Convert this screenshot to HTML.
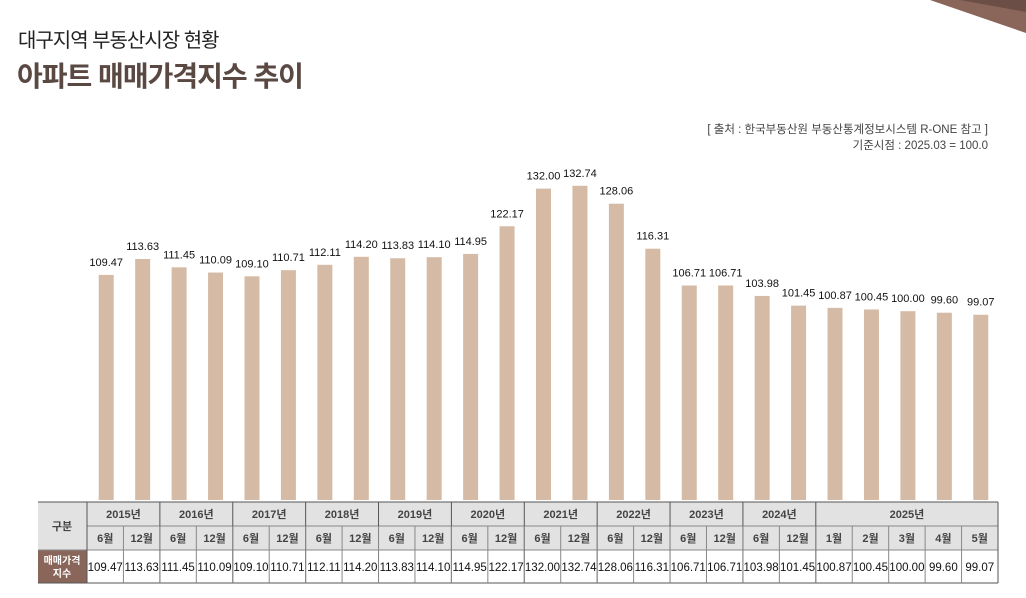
<!DOCTYPE html>
<html><head><meta charset="utf-8"><style>
body{margin:0;background:#fff;width:1026px;height:598px;overflow:hidden;position:relative;font-family:"Liberation Sans","Noto Sans CJK KR",sans-serif}
.t1{position:absolute;left:18px;top:24px;font-size:20px;color:#222;letter-spacing:-1px}
.t2{position:absolute;left:17px;top:55px;font-size:28px;font-weight:bold;color:#5a4842;letter-spacing:-1px}
.src{position:absolute;right:38px;top:122px;font-size:11.5px;color:#444;text-align:right;line-height:16px}
</style></head><body>
<svg style="position:absolute;left:0;top:0" width="1026" height="40"><polygon points="930,0 1026,0 1026,33" fill="#8a665a"/><polygon points="960,0 1026,0 1026,12" fill="#6b4f46"/></svg>
<div class="t1">대구지역 부동산시장 현황</div>
<div class="t2">아파트 매매가격지수 추이</div>
<div class="src">[ 출처 : 한국부동산원 부동산통계정보시스템 R-ONE 참고 ]<br>기준시점 : 2025.03 = 100.0</div>
<svg id="c" style="position:absolute;left:0;top:0" width="1026" height="598"></svg>
<script>
const years=["2015년","2016년","2017년","2018년","2019년","2020년","2021년","2022년","2023년","2024년","2025년"];
const periods=["6월","12월","6월","12월","6월","12월","6월","12월","6월","12월","6월","12월","6월","12월","6월","12월","6월","12월","6월","12월","1월","2월","3월","4월","5월"];
const values=[109.47,113.63,111.45,110.09,109.10,110.71,112.11,114.20,113.83,114.10,114.95,122.17,132.00,132.74,128.06,116.31,106.71,106.71,103.98,101.45,100.87,100.45,100.00,99.60,99.07];
const yearSpans=[2,2,2,2,2,2,2,2,2,2,5];
const svg=document.getElementById('c');const NS='http://www.w3.org/2000/svg';
const L=87,CW=36.44,base=500,k=3.83,v0=50.7;
const xc=i=>L+CW*(i+0.5)+1;const y=v=>base-k*(v-v0);
function mk(t,a,txt){const e=document.createElementNS(NS,t);for(const n in a)e.setAttribute(n,a[n]);if(txt!=null)e.textContent=txt;svg.appendChild(e);return e;}
values.forEach((v,i)=>{
const b=mk('rect',{x:xc(i)-7.5,y:y(v),width:15,height:base-y(v),fill:'#d5bba5'});


const t=mk('text',{x:xc(i),y:y(v)-9,'text-anchor':'middle','font-size':11,fill:'#111'},v.toFixed(2));


});
const T=502,R1=526,R2=550,B=583,Rt=L+CW*values.length;
mk('rect',{x:38,y:T,width:Rt-38,height:R2-T,fill:'#e2e2e2'});
mk('rect',{x:38,y:R2,width:49,height:B-R2,fill:'#8a665a'});
const lc='#555';
[T,B].forEach(yy=>mk('line',{x1:38,x2:Rt,y1:yy,y2:yy,stroke:lc}));
mk('line',{x1:L,x2:Rt,y1:R1,y2:R1,stroke:'#888'});
mk('line',{x1:38,x2:Rt,y1:R2,y2:R2,stroke:'#888'});
mk('line',{x1:Rt,x2:Rt,y1:T,y2:B,stroke:lc});
mk('line',{x1:L,x2:L,y1:T,y2:B,stroke:lc});
let ci=0;
years.forEach((yr,j)=>{const s=yearSpans[j];const x0=L+CW*ci;
const t=mk('text',{x:x0+CW*s/2,y:518,'text-anchor':'middle','font-size':11,'font-weight':'bold',fill:'#444'},yr);


if(j>0)mk('line',{x1:x0,x2:x0,y1:T,y2:B,stroke:lc});ci+=s;});
periods.forEach((p,i)=>{const x0=L+CW*i;
if(i>0)mk('line',{x1:x0,x2:x0,y1:R1,y2:B,stroke:'#888'});
const t=mk('text',{x:x0+CW/2,y:542,'text-anchor':'middle','font-size':11,'font-weight':'bold',fill:'#444'},p);


const d=mk('text',{x:x0+CW/2,y:571,'text-anchor':'middle','font-size':11.5,fill:'#111'},values[i].toFixed(2));

});
let g=mk('text',{x:62,y:530,'text-anchor':'middle','font-size':11,'font-weight':'bold',fill:'#444'},'구분');


g=mk('text',{x:62,y:564,'text-anchor':'middle','font-size':10,'font-weight':'bold',fill:'#fff'},'매매가격');


g=mk('text',{x:62,y:577,'text-anchor':'middle','font-size':10,'font-weight':'bold',fill:'#fff'},'지수');


</script>
</body></html>
